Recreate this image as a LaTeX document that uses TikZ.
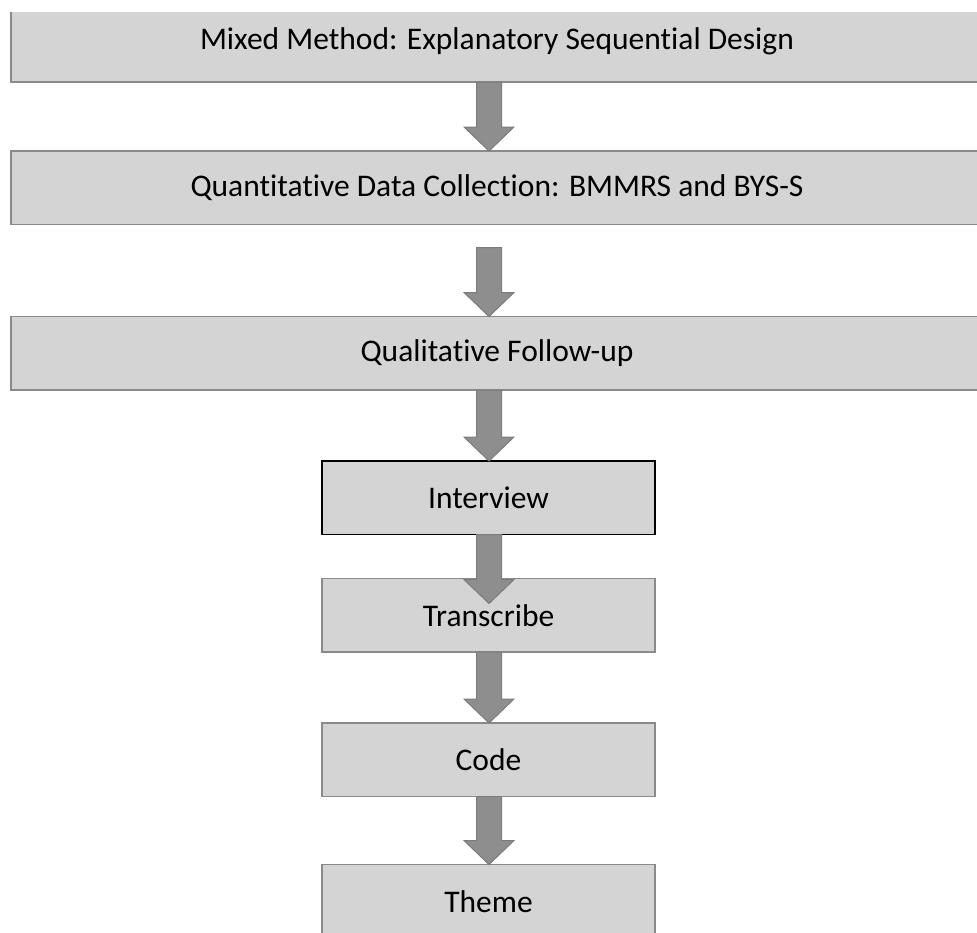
\documentclass[tikz,border=0pt]{standalone}
\usepackage{fontspec}
\setmainfont{Carlito}[Ligatures=NoCommon]
\usetikzlibrary{positioning,calc}

\definecolor{boxfill}{HTML}{D4D4D4}
\definecolor{boxline}{HTML}{8A8A8A}
\definecolor{arrowfill}{HTML}{8E8E8E}
\definecolor{arrowline}{HTML}{7C7C7C}

% block arrow: from, to, gap below source, overlap into target
\newcommand{\flowarrow}[4]{%
  \draw[arrowshape] let \p0=(axis), \p1=(#1.south), \p2=(#2.north) in
    (\x0-12.5pt,\y1-#3) -- (\x0-12.5pt,\y2-#4+24pt) -- (\x0-25pt,\y2-#4+24pt)
    -- (\x0,\y2-#4) -- (\x0+25pt,\y2-#4+24pt) -- (\x0+12.5pt,\y2-#4+24pt)
    -- (\x0+12.5pt,\y1-#3) -- cycle;}

\begin{document}
\begin{tikzpicture}[
x=1pt, y=-1pt,
widebox/.style={rectangle, draw=boxline, fill=boxfill, line width=1.5pt,
  minimum width=972pt, minimum height=73.5pt, inner sep=0pt, outer sep=0pt,
  font=\fontsize{31.5}{36}\selectfont},
stepbox/.style={rectangle, draw=boxline, fill=boxfill, line width=1.5pt,
  minimum width=333pt, minimum height=73.5pt, inner sep=0pt, outer sep=0pt,
  font=\fontsize{31.5}{36}\selectfont},
arrowshape/.style={fill=arrowfill, draw=arrowline, line width=1pt}]
\useasboundingbox (0,0) rectangle (977,932);
\begin{scope}
\clip (0,12.5) rectangle (977,932);
% Nodes
\node[widebox, minimum height=82pt] (mixed) at (497,41) {Mixed Method: Explanatory Sequential Design};
\node[widebox] (quant) [below=69pt of mixed] {Quantitative Data Collection: BMMRS and BYS-S};
\node[widebox] (qual) [below=92pt of quant] {Qualitative Follow-up};
\node[stepbox, draw=black] (interview) [below=71pt of qual, xshift=-8.5pt] {Interview};
\node[stepbox] (transcribe) [below=44pt of interview] {Transcribe};
\node[stepbox] (code) [below=71pt of transcribe] {Code};
\node[stepbox] (theme) [below=68pt of code] {Theme};
\coordinate (axis) at (489,0);
% Arrows
\flowarrow{mixed}{quant}{0pt}{0pt}
\flowarrow{quant}{qual}{23pt}{0pt}
\flowarrow{qual}{interview}{0pt}{0pt}
\flowarrow{interview}{transcribe}{0pt}{25pt}
\flowarrow{transcribe}{code}{0pt}{0pt}
\flowarrow{code}{theme}{0pt}{0pt}
\end{scope}
\end{tikzpicture}
\end{document}
